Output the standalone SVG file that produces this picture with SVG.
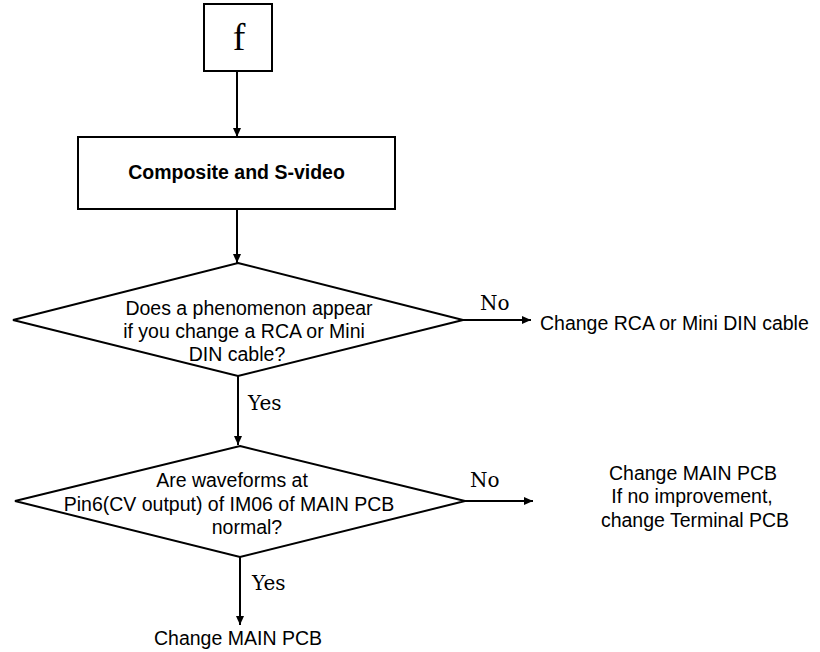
<svg xmlns="http://www.w3.org/2000/svg" width="820" height="652" viewBox="0 0 820 652">
<style>
.shape{fill:#fff;stroke:#000;stroke-width:2}
.line{fill:none;stroke:#000;stroke-width:2}
.sans{font-family:"Liberation Sans",Arial,sans-serif;font-size:19.5px;fill:#000}
.serif{font-family:"DejaVu Serif","Liberation Serif",serif;font-size:20px;fill:#000}
</style>
<defs>
<marker id="arr" markerWidth="10" markerHeight="10" refX="9" refY="5" orient="auto" markerUnits="userSpaceOnUse">
<path d="M0,1 L9,5 L0,9 Z" fill="#000"/>
</marker>
</defs>
<rect width="820" height="652" fill="#fff"/>
<g id="connectors">
<line class="line" x1="237" y1="71" x2="237" y2="137" marker-end="url(#arr)"/>
<line class="line" x1="237" y1="209" x2="237" y2="263" marker-end="url(#arr)"/>
<line class="line" x1="463" y1="320" x2="531" y2="320" marker-end="url(#arr)"/>
<text class="serif" x="480" y="310">No</text>
<line class="line" x1="238" y1="376" x2="238" y2="445" marker-end="url(#arr)"/>
<text class="serif" x="248" y="410">Yes</text>
<line class="line" x1="465" y1="501" x2="533" y2="501" marker-end="url(#arr)"/>
<text class="serif" x="470" y="487">No</text>
<line class="line" x1="240" y1="557" x2="240" y2="625" marker-end="url(#arr)"/>
<text class="serif" x="252" y="590">Yes</text>
</g>
<g id="start">
<rect class="shape" x="204" y="4" width="68" height="67"/>
<text x="239" y="50" text-anchor="middle" style="font-family:'Liberation Serif','Times New Roman',serif;font-size:38px">f</text>
</g>
<g id="composite">
<rect class="shape" x="78" y="137" width="317" height="72"/>
<text x="236.5" y="179" text-anchor="middle" style="font-family:'Liberation Sans',Arial,sans-serif;font-weight:bold;font-size:19.5px">Composite and S-video</text>
</g>
<g id="decision1">
<polygon class="shape" points="238,263 463,320 238,376 13,320"/>
<text class="sans" x="249" y="315" text-anchor="middle">Does a phenomenon appear</text>
<text class="sans" x="244" y="338" text-anchor="middle">if you change a RCA or Mini</text>
<text class="sans" x="237" y="361" text-anchor="middle">DIN cable?</text>
</g>
<g id="result1">
<text class="sans" x="540" y="330">Change RCA or Mini DIN cable</text>
</g>
<g id="decision2">
<polygon class="shape" points="240,446 465,501 240,557 15,501"/>
<text class="sans" x="232" y="487" text-anchor="middle">Are waveforms at</text>
<text class="sans" x="229" y="511" text-anchor="middle">Pin6(CV output) of IM06 of MAIN PCB</text>
<text class="sans" x="247" y="534" text-anchor="middle">normal?</text>
</g>
<g id="result2">
<text class="sans" x="693" y="480" text-anchor="middle">Change MAIN PCB</text>
<text class="sans" x="692" y="503" text-anchor="middle">If no improvement,</text>
<text class="sans" x="695" y="527" text-anchor="middle">change Terminal PCB</text>
</g>
<g id="result3">
<text class="sans" x="238" y="645" text-anchor="middle">Change MAIN PCB</text>
</g>
</svg>
